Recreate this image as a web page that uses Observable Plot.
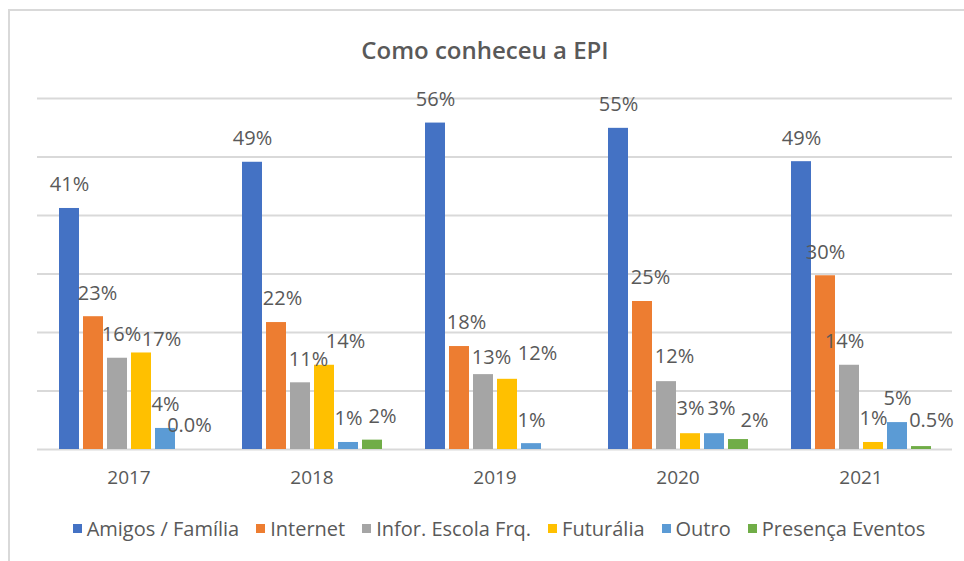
<!DOCTYPE html>
<html>
<head>
<meta charset="utf-8">
<script src="https://cdn.jsdelivr.net/npm/d3@7"></script>
<script src="https://cdn.jsdelivr.net/npm/@observablehq/plot@0.6"></script>
<style>
  html, body { margin: 0; padding: 0; background: #fff; overflow: hidden; width: 964px; height: 561px; }
  #frame { position: absolute; left: 8px; top: 9px; width: 1100px; height: 700px;
           border-left: 2px solid #d9d9d9; border-top: 2px solid #d9d9d9; }
  #title { position: absolute; left: 0; top: 35px; width: 970px; text-align: center;
           font-family: "Open Sans", sans-serif; font-weight: 600; font-size: 24px; line-height: 30px; color: #595959; }
  #chart { position: absolute; left: 0; top: 0; }
  #legend { position: absolute; left: 0; top: 512px; width: 998px; }
</style>
</head>
<body>
<div id="frame"></div>
<div id="title">Como conheceu a EPI</div>
<div id="chart"></div>
<div id="legend"></div>
<script>
const years = ["2017", "2018", "2019", "2020", "2021"];
const series = ["Amigos / Família", "Internet", "Infor. Escola Frq.", "Futurália", "Outro", "Presença Eventos"];
const colors = ["#4472C4", "#ED7D31", "#A5A5A5", "#FFC000", "#5B9BD5", "#70AD47"];

const amigos    = [41.2, 49.1, 55.8, 54.9, 49.2];
const internet  = [22.7, 21.7, 17.6, 25.3, 29.7];
const infor     = [15.6, 11.4, 12.8, 11.6, 14.4];
const futuralia = [16.5, 14.4, 12.0, 2.7, 1.2];
const outro     = [3.6, 1.2, 1.0, 2.7, 4.6];
const presenca  = [0.0, 1.6, null, 1.7, 0.5];
const yTicks = [0, 10, 20, 30, 40, 50, 60];

const values = [amigos, internet, infor, futuralia, outro, presenca];
const table = years.flatMap((year, i) =>
  series.map((s, j) => ({year, series: s, value: values[j][i]})));

const fmt = v => v == null ? "" : v < 1 ? v.toFixed(1) + "%" : Math.round(v) + "%";

// label placement tweaks (year, series, dx, dy) to mimic the reference's label layout
const nudges = [
  ["2017", "Internet", 4, 0], ["2017", "Infor. Escola Frq.", 4, 0], ["2017", "Futurália", 20, 10],
  ["2018", "Internet", 6, 0], ["2018", "Infor. Escola Frq.", 8, 0], ["2018", "Futurália", 21, 0], ["2018", "Presença Eventos", 10, 0],
  ["2019", "Internet", 7, 0], ["2019", "Infor. Escola Frq.", 8, 6], ["2019", "Futurália", 30, -2],
  ["2020", "Internet", 8, 0], ["2020", "Infor. Escola Frq.", 8, -2], ["2020", "Futurália", 0, -2], ["2020", "Outro", 7, -2], ["2020", "Presença Eventos", 16, 5],
  ["2021", "Infor. Escola Frq.", -5, 0], ["2021", "Presença Eventos", 10, -2]
];
const isNudged = d => nudges.some(n => n[0] === d.year && n[1] === d.series);
const baseDy = -23.5;
const textOpts = {x: "series", y: "value", text: d => fmt(d.value), fill: "#595959",
  fontSize: 20, fontFamily: "Open Sans, sans-serif"};

const labelMarks = [
  Plot.text(table, {...textOpts, filter: d => d.value != null && !isNudged(d), dy: baseDy}),
  ...nudges.map(([yr, s, dx, dy]) =>
    Plot.text(table, {...textOpts, filter: d => d.value != null && d.year === yr && d.series === s, dx, dy: baseDy + dy}))
];

const chart = Plot.plot({
  width: 964,
  height: 500,
  marginTop: 98,
  marginBottom: 51,
  marginLeft: 35,
  marginRight: 11,
  style: {background: "transparent", fontFamily: "Open Sans, sans-serif", fontSize: "19px", color: "#595959"},
  facet: {data: table, x: "year"},
  fx: {domain: years, padding: 0, axis: "bottom", tickSize: 0, tickPadding: 21, label: null},
  x: {domain: series, paddingInner: 0.18, paddingOuter: 0.77, axis: null},
  y: {domain: [0, 60], axis: null},
  color: {domain: series, range: colors},
  marks: [
    Plot.ruleY(yTicks, {stroke: "#d9d9d9", strokeWidth: 2}),
    Plot.barY(table, {x: "series", y: "value", fill: "series", filter: d => d.value != null}),
    ...labelMarks
  ]
});
document.getElementById("chart").appendChild(chart);

const legend = Plot.legend({
  color: {domain: series, range: colors},
  swatchSize: 9,
  style: {fontFamily: "Open Sans, sans-serif", fontSize: "20px", color: "#595959"}
});
legend.style.justifyContent = "center";
legend.style.fontFamily = "Open Sans, sans-serif";
legend.style.fontSize = "20px";
legend.style.color = "#595959";
const items = [...legend.children].filter(el => el.tagName.toLowerCase() !== "style");
items.forEach((el, i) => {
  el.style.marginRight = i === items.length - 1 ? "0px" : "17px";
  const sw = el.querySelector("svg");
  if (sw) sw.style.marginRight = "5px";
});
document.getElementById("legend").appendChild(legend);
</script>
</body>
</html>
